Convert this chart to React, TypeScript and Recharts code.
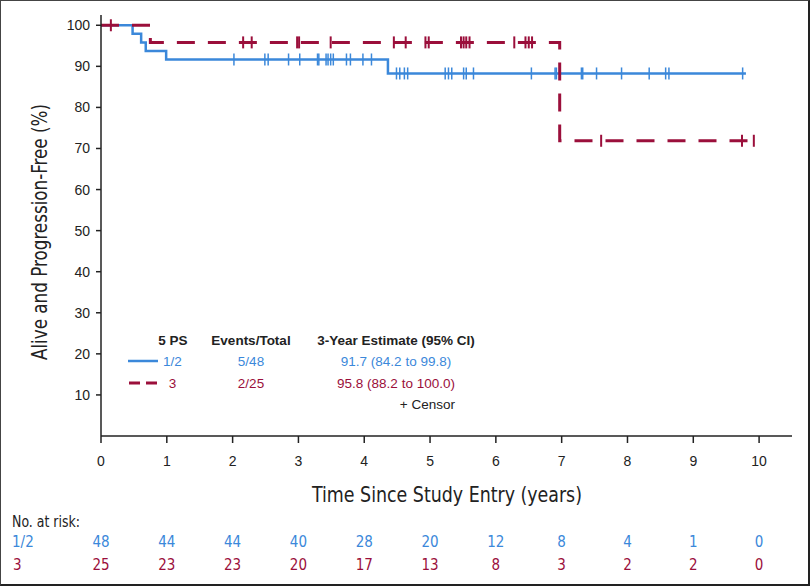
import React from "react";
import { ComposedChart, Line, Scatter, XAxis, YAxis } from "recharts";

const BLUE = "#3b88da";
const RED = "#9b0f3b";
const NARROW = "'Liberation Sans Narrow', 'DejaVu Sans Condensed', 'Roboto Condensed', Roboto, sans-serif";
const SANS = "'Liberation Sans', Arial, Helvetica, sans-serif";

const timeTicks = [0, 1, 2, 3, 4, 5, 6, 7, 8, 9, 10];
const pctTicks = [10, 20, 30, 40, 50, 60, 70, 80, 90, 100];

// Kaplan-Meier steps, PS 1/2
const blueCurve = [
  { t: 0, s: 100 },
  { t: 0.48, s: 97.92 },
  { t: 0.61, s: 95.83 },
  { t: 0.68, s: 93.75 },
  { t: 0.99, s: 91.67 },
  { t: 4.36, s: 88.27 },
  { t: 9.8, s: 88.27 },
];

// Kaplan-Meier steps, PS 3
const redCurve = [
  { t: 0, s: 100 },
  { t: 0.75, s: 95.83 },
  { t: 6.97, s: 71.88 },
  { t: 10.0, s: 71.88 },
];

const blueCensorTimes = [
  2.02, 2.49, 2.54, 2.85, 3.02, 3.29, 3.31, 3.42, 3.45, 3.49, 3.53, 3.73, 3.79, 3.98,
  4.11, 4.49, 4.54, 4.61, 4.66, 5.23, 5.28, 5.33, 5.51, 5.55, 5.66, 6.54, 6.9, 6.92,
  7.3, 7.32, 7.53, 7.91, 8.33, 8.58, 8.63, 9.75,
];
const redCensorTimes = [
  0.15, 2.16, 2.29, 2.98, 3.01, 3.49, 4.45, 4.63, 4.93, 4.98, 5.47, 5.51, 5.55, 5.6,
  6.28, 6.45, 6.5, 6.55, 7.6, 9.74, 9.92,
];

const riskBlue = [48, 44, 44, 40, 28, 20, 12, 8, 4, 1, 0];
const riskRed = [25, 23, 23, 20, 17, 13, 8, 3, 2, 2, 0];

// survival value of a step curve at time t
const valueAt = (curve: { t: number; s: number }[], t: number) => {
  let v = curve[0].s;
  for (const p of curve) if (p.t <= t) v = p.s;
  return v;
};

const blueCensors = blueCensorTimes.map((t) => ({ t, s: valueAt(blueCurve, t) }));
const redCensors = redCensorTimes.map((t) => ({ t, s: valueAt(redCurve, t) }));

const censorShape = (color: string, half: number, w: number) => (props: any) => {
  const { cx, cy } = props;
  return <line x1={cx} x2={cx} y1={cy - half} y2={cy + half} stroke={color} strokeWidth={w} />;
};

function TimeTick(props: any) {
  const { x, y, payload } = props;
  const i = timeTicks.indexOf(payload.value);
  return (
    <g>
      <text x={x} y={y + 18} textAnchor="middle" dominantBaseline="central" fontFamily={SANS} fontSize={14} fill="#222">
        {payload.value}
      </text>
      {i === 0 && (
        <text x={12} y={y + 79} dominantBaseline="central" fontFamily={NARROW} fontSize={15} fill="#222" textLength={68} lengthAdjust="spacingAndGlyphs">
          No. at risk:
        </text>
      )}
      {i === 0 && (
        <text x={12} y={y + 99} dominantBaseline="central" fontFamily={NARROW} fontSize={15} fill={BLUE}>
          1/2
        </text>
      )}
      {i === 0 && (
        <text x={13} y={y + 122} dominantBaseline="central" fontFamily={NARROW} fontSize={15} fill={RED}>
          3
        </text>
      )}
      <text x={x} y={y + 99} textAnchor="middle" dominantBaseline="central" fontFamily={NARROW} fontSize={15} fill={BLUE}>
        {riskBlue[i]}
      </text>
      <text x={x} y={y + 122} textAnchor="middle" dominantBaseline="central" fontFamily={NARROW} fontSize={15} fill={RED}>
        {riskRed[i]}
      </text>
    </g>
  );
}

export default function App() {
  return (
    <div style={{ position: "absolute", left: 0, top: 0, width: 810, height: 586, background: "#fff" }}>
      <ComposedChart width={810} height={586} margin={{ top: 15, right: 18, bottom: 0, left: 31 }}>
        <XAxis
          dataKey="t"
          type="number"
          domain={[0, 10.5]}
          ticks={timeTicks}
          allowDataOverflow
          height={150}
          tickSize={7}
          tickMargin={0}
          stroke="#222"
          strokeWidth={1.5}
          tick={<TimeTick />}
        />
        <YAxis
          type="number"
          domain={[0, 102.5]}
          ticks={pctTicks}
          allowDataOverflow
          width={70}
          tickSize={5}
          tickMargin={6}
          stroke="#222"
          strokeWidth={1.5}
          tick={{ fontFamily: SANS, fontSize: 14, fill: "#222" }}
        />
        <Line data={blueCurve} dataKey="s" type="stepAfter" stroke={BLUE} strokeWidth={2.5} dot={false} isAnimationActive={false} />
        <Line
          data={redCurve}
          dataKey="s"
          type="stepAfter"
          stroke={RED}
          strokeWidth={3}
          strokeDasharray="18 13"
          dot={false}
          isAnimationActive={false}
        />
        <Scatter data={blueCensors} dataKey="s" shape={censorShape(BLUE, 6, 1.5)} isAnimationActive={false} />
        <Scatter data={redCensors} dataKey="s" shape={censorShape(RED, 6, 2)} isAnimationActive={false} />
      </ComposedChart>
      <svg width={810} height={586} style={{ position: "absolute", left: 0, top: 0, pointerEvents: "none" }}>
        <text
          x={40}
          y={232}
          transform="rotate(-90 40 232)"
          textAnchor="middle"
          dominantBaseline="central"
          fontFamily={NARROW}
          fontSize={21}
          fill="#222"
          textLength={256}
          lengthAdjust="spacingAndGlyphs"
        >
          Alive and Progression-Free (%)
        </text>
        <text
          x={447}
          y={494}
          textAnchor="middle"
          dominantBaseline="central"
          fontFamily={NARROW}
          fontSize={22}
          fill="#222"
          textLength={270}
          lengthAdjust="spacingAndGlyphs"
        >
          Time Since Study Entry (years)
        </text>
        <g fontFamily={SANS} fontSize={13.5} dominantBaseline="central" textAnchor="middle">
          <text x={173} y={340} fontWeight="bold" fill="#222">5 PS</text>
          <text x={251} y={340} fontWeight="bold" fill="#222">Events/Total</text>
          <text x={396} y={340} fontWeight="bold" fill="#222">3-Year Estimate (95% CI)</text>
          <line x1={128} x2={158} y1={361} y2={361} stroke={BLUE} strokeWidth={2.5} />
          <text x={172.5} y={361} fill={BLUE}>1/2</text>
          <text x={251} y={361} fill={BLUE}>5/48</text>
          <text x={396} y={361} fill={BLUE}>91.7 (84.2 to 99.8)</text>
          <line x1={129} x2={157} y1={383} y2={383} stroke={RED} strokeWidth={3} strokeDasharray="11 6" />
          <text x={172.5} y={383} fill={RED}>3</text>
          <text x={251} y={383} fill={RED}>2/25</text>
          <text x={396} y={383} fill={RED}>95.8 (88.2 to 100.0)</text>
          <text x={455} y={404} textAnchor="end" fill="#222">+ Censor</text>
        </g>
      </svg>
      <div
        style={{
          position: "absolute",
          inset: 0,
          boxSizing: "border-box",
          borderTop: "1px solid #444",
          borderLeft: "1px solid #444",
          borderRight: "2px solid #222",
          borderBottom: "2px solid #222",
          pointerEvents: "none",
        }}
      />
    </div>
  );
}
